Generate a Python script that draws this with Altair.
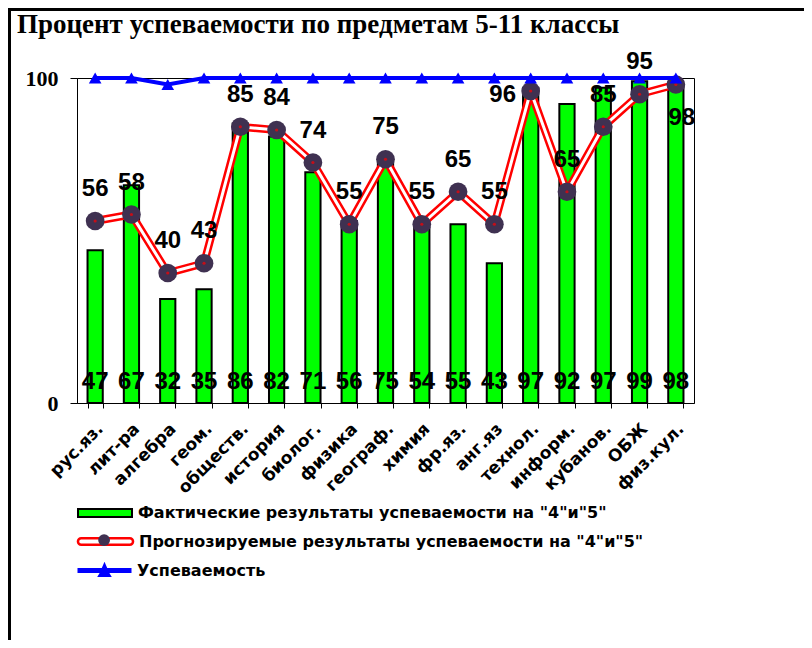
import altair as alt
import pandas as pd

subjects = ["рус.яз.", "лит-ра", "алгебра", "геом.", "обществ.", "история", "биолог.",
            "физика", "географ.", "химия", "фр.яз.", "анг.яз", "технол.", "информ.",
            "кубанов.", "ОБЖ", "физ.кул."]
actual = [47, 67, 32, 35, 86, 82, 71, 56, 75, 54, 55, 43, 97, 92, 97, 99, 98]
predicted = [56, 58, 40, 43, 85, 84, 74, 55, 75, 55, 65, 55, 96, 65, 85, 95, 98]
success = [100, 100, 98, 100, 100, 100, 100, 100, 100, 100, 100, 100, 100, 100, 100, 100, 100]

LBL_ACT = 'Фактические результаты успеваемости на "4"и"5"'
LBL_PRED = 'Прогнозируемые результаты успеваемости на "4"и"5"'
LBL_SUCC = 'Успеваемость'
TITLE = "Процент успеваемости  по предметам 5-11 классы"

df = pd.DataFrame({
    "subject": subjects, "actual": actual, "predicted": predicted, "success": success,
    "s_act": LBL_ACT, "s_pred": LBL_PRED, "s_circ": "c", "s_dot": "d", "s_succ": LBL_SUCC,
})

GREEN = "#00ff00"
RED = "#ff0000"
BLUE = "#0000ff"
DARK = "#3f3151"
SANS = "Liberation Sans"
LEGF = "DejaVu Sans"
SERIF = "Liberation Serif"

W, H = 617, 325
LX = 0
SYM = 2916  # 54 px wide legend symbols
HALF = 27
LY1, LY2, LY3 = 407, 435, 465

legend_text = dict(labelFont=LEGF, labelFontWeight="bold", labelFontSize=16,
                   labelColor="black", labelOffset=5, labelLimit=0)

x_enc = alt.X("subject:N", sort=subjects, title=None,
              scale=alt.Scale(paddingInner=0.58, paddingOuter=0.29),
              axis=alt.Axis(labelAngle=-45, labelAlign="right", labelBaseline="middle",
                            labelFont=LEGF, labelFontWeight="bold", labelFontSize=17,
                            labelColor="black", tickBand="extent", tickSize=5,
                            tickColor="black", domainColor="black", labelPadding=18,
                            labelOffset=5, labelOverlap=False))
y_scale = alt.Scale(domain=[0, 100], nice=False)
y_axis = alt.Axis(values=[0, 100], title=None, grid=False, labelFont=SERIF,
                  labelFontWeight="bold", labelFontSize=22, labelColor="black",
                  tickSize=7, tickColor="black", domainColor="black", labelPadding=12)

base = alt.Chart(df)
X = alt.X("subject:N", sort=subjects)

bars = base.mark_bar(stroke="black", strokeWidth=2).encode(
    x=x_enc,
    y=alt.Y("actual:Q", scale=y_scale, axis=y_axis),
    fill=alt.Fill("s_act:N", scale=alt.Scale(domain=[LBL_ACT], range=[GREEN]),
                  legend=alt.Legend(title=None, orient="none", legendX=LX, legendY=LY1,
                                    symbolType="M-1,-0.15H1V0.15H-1Z", symbolSize=SYM,
                                    symbolStrokeColor="black", symbolStrokeWidth=2,
                                    **legend_text)),
)

red_line = base.mark_line(strokeWidth=8).encode(
    x=X,
    y=alt.Y("predicted:Q", scale=y_scale),
    stroke=alt.Stroke("s_pred:N", scale=alt.Scale(domain=[LBL_PRED], range=[RED]),
                      legend=alt.Legend(title=None, orient="none", legendX=LX, legendY=LY2,
                                        symbolType="M-0.9,-0.12H0.9A0.12,0.12,0,0,1,0.9,0.12H-0.9A0.12,0.12,0,0,1,-0.9,-0.12Z",
                                        symbolSize=SYM, symbolFillColor="white",
                                        symbolStrokeColor=RED, symbolStrokeWidth=2.5,
                                        **legend_text)),
)
white_line = base.mark_line(strokeWidth=3, color="white").encode(
    x=X, y=alt.Y("predicted:Q", scale=y_scale))

CS = 140
DS = 8
circles = base.mark_point(shape="circle", filled=True, color=DARK, size=350, opacity=1).encode(
    x=X, y=alt.Y("predicted:Q", scale=y_scale),
    opacity=alt.Opacity("s_circ:N", scale=alt.Scale(domain=["c"], range=[1]),
                        legend=alt.Legend(title=None, orient="none",
                                          legendX=LX + HALF - CS ** 0.5 / 2,
                                          legendY=LY2 + HALF - CS ** 0.5 / 2,
                                          symbolType="circle", symbolSize=CS,
                                          symbolFillColor=DARK, symbolStrokeWidth=0,
                                          labelExpr="''")),
)
dots = base.mark_point(shape="circle", filled=True, color=RED, size=10).encode(
    x=X, y=alt.Y("predicted:Q", scale=y_scale),
    fillOpacity=alt.FillOpacity("s_dot:N", scale=alt.Scale(domain=["d"], range=[1]),
                                legend=alt.Legend(title=None, orient="none",
                                                  legendX=LX + HALF - DS ** 0.5 / 2,
                                                  legendY=LY2 + HALF - DS ** 0.5 / 2,
                                                  symbolType="circle", symbolSize=DS,
                                                  symbolFillColor=RED, symbolStrokeWidth=0,
                                                  labelExpr="''")),
)

lab_style = dict(font=SANS, fontWeight="bold", fontSize=24, color="black", baseline="middle")
YP = alt.Y("predicted:Q", scale=y_scale)
normal = base.transform_filter(
    "datum.subject != 'технол.' && datum.subject != 'физ.кул.'"
).mark_text(dy=-32, **lab_style).encode(x=X, y=YP, text="predicted:Q")
lab96 = base.transform_filter("datum.subject == 'технол.'").mark_text(
    dx=-28, dy=4, **lab_style).encode(x=X, y=YP, text="predicted:Q")
lab98 = base.transform_filter("datum.subject == 'физ.кул.'").mark_text(
    dx=6, dy=33, **lab_style).encode(x=X, y=YP, text="predicted:Q")

bar_labels = base.transform_calculate(zero="0").mark_text(
    font=SANS, fontWeight="bold", fontSize=24, color="black", baseline="middle", dy=-21
).encode(x=X, y=alt.Y("zero:Q", scale=y_scale), text="actual:Q")

blue_line = base.mark_line(strokeWidth=4, color=BLUE).encode(
    x=X, y=alt.Y("success:Q", scale=y_scale))
tris = base.mark_point(shape="triangle-up", filled=True, color=BLUE, size=160).encode(
    x=X, y=alt.Y("success:Q", scale=y_scale),
    opacity=alt.Opacity(
        "s_succ:N", scale=alt.Scale(domain=[LBL_SUCC], range=[1]),
        legend=alt.Legend(title=None, orient="none", legendX=LX, legendY=LY3,
                          symbolType="M-1,-0.09H-0.1L0,-0.32L0.1,-0.09H1V0.09H0.18L0.27,0.24H-0.27L-0.18,0.09H-1Z",
                          symbolSize=SYM, symbolFillColor=BLUE, symbolStrokeColor=BLUE,
                          symbolStrokeWidth=1, **legend_text)),
)

frame_left = alt.Chart(df).mark_rule(color="black", strokeWidth=3).encode(
    x=alt.value(-67.5), y=alt.value(-69), y2=alt.value(H + 240))
frame_top = alt.Chart(df).mark_rule(color="black", strokeWidth=3).encode(
    x=alt.value(-69), x2=alt.value(W + 112), y=alt.value(-68.5))

chart = alt.layer(
    bars, red_line, white_line, circles, dots, normal, lab96, lab98, bar_labels,
    blue_line, tris, frame_left, frame_top
).resolve_scale(
    fill="independent", stroke="independent", opacity="independent",
    fillOpacity="independent"
).resolve_legend(opacity="independent").properties(
    width=W, height=H,
    title=alt.TitleParams(TITLE, anchor="start", frame="group", dx=-60, offset=-31,
                          font=SERIF, fontSize=27, fontWeight="bold", color="black"),
    autosize=alt.AutoSizeParams(type="none"),
    padding={"left": 69, "top": 70, "right": 110, "bottom": 237},
).configure_view(stroke="black", strokeWidth=1)

chart.save("out.html", embed_options={"renderer": "svg", "actions": False})
